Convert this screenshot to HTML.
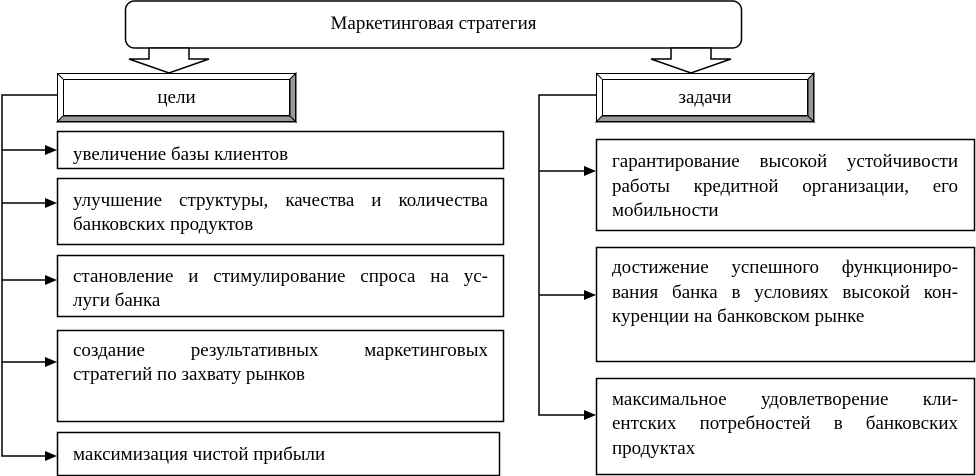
<!DOCTYPE html>
<html><head><meta charset="utf-8"><style>
body{margin:0;width:976px;height:476px;background:#fff;position:relative;overflow:hidden;font-family:"Liberation Serif","Times New Roman","DejaVu Serif",serif;color:#000}
svg{position:absolute;left:0;top:0}
.l{position:absolute;font-size:19px;line-height:24px;height:24px;white-space:nowrap;font-family:"Liberation Serif","Times New Roman","DejaVu Serif",serif}
.j{text-align:justify;text-align-last:justify;white-space:normal}
.c{text-align:center}
</style></head><body>
<svg width="976" height="476" viewBox="0 0 976 476">
<g fill="none" stroke="#000" stroke-width="1.5">
<rect x="125.5" y="1" width="616" height="47" rx="9" fill="#fff"/>
<polygon points="149,48 189,48 189,59 209,59 169,73 129,59 149,59" fill="#fff"/>
<polygon points="671,48 711,48 711,59 731,59 691,73 651,59 671,59" fill="#fff"/>
</g>
<g stroke="#000" stroke-width="1">
<polygon points="290,79 296,73 296,122 290,116" fill="#999"/>
<polygon points="63,116 290,116 296,122 57,122" fill="#999"/>
<rect x="57.5" y="73.5" width="238" height="48" fill="none"/>
<rect x="63.5" y="79.5" width="226" height="36" fill="#fff"/>
<line x1="57" y1="73" x2="63" y2="79"/>
<polygon points="808,79 814,73 814,122 808,116" fill="#999"/>
<polygon points="602,116 808,116 814,122 596,122" fill="#999"/>
<rect x="596.5" y="73.5" width="217" height="48" fill="none"/>
<rect x="602.5" y="79.5" width="205" height="36" fill="#fff"/>
<line x1="596" y1="73" x2="602" y2="79"/>
</g>
<g fill="none" stroke="#000" stroke-width="1.5">
<rect x="57.5" y="131.5" width="446" height="37"/>
<rect x="57.5" y="178.5" width="446" height="66"/>
<rect x="57.5" y="255.5" width="446" height="61"/>
<rect x="57.5" y="330.5" width="446" height="91"/>
<rect x="57.5" y="432.5" width="442" height="43"/>
<rect x="596.5" y="139.5" width="378" height="91"/>
<rect x="596.5" y="247.5" width="378" height="114"/>
<rect x="596.5" y="378.5" width="378" height="96"/>
<polyline points="57,95 2,95 2,456 45,456"/>
<line x1="2" y1="150" x2="45" y2="150"/><line x1="2" y1="203" x2="45" y2="203"/>
<line x1="2" y1="280" x2="45" y2="280"/><line x1="2" y1="362" x2="45" y2="362"/>
<polyline points="596,95 539,95 539,415 584,415"/>
<line x1="539" y1="171" x2="584" y2="171"/><line x1="539" y1="295" x2="584" y2="295"/>
</g>
<g fill="#000">
<polygon points="57,150 45,145 45,155"/><polygon points="57,203 45,198 45,208"/>
<polygon points="57,280 45,275 45,285"/><polygon points="57,362 45,357 45,367"/>
<polygon points="57,456 45,451 45,461"/>
<polygon points="596,171 584,166 584,176"/><polygon points="596,295 584,290 584,300"/>
<polygon points="596,415 584,410 584,420"/>
</g>
</svg>
<div class="l c" style="left:125px;width:617px;top:12px">Маркетинговая стратегия</div>
<div class="l c" style="left:63px;width:227px;top:86px">цели</div>
<div class="l c" style="left:602px;width:206px;top:86px">задачи</div>

<div class="l" style="left:73px;top:143px">увеличение базы клиентов</div>
<div class="l j" style="left:73px;width:415px;top:189px">улучшение структуры, качества и количества</div>
<div class="l" style="left:73px;top:213px">банковских продуктов</div>
<div class="l j" style="left:73px;width:415px;top:265px">становление и стимулирование спроса на ус-</div>
<div class="l" style="left:73px;top:289px">луги банка</div>
<div class="l j" style="left:73px;width:415px;top:339px">создание результативных маркетинговых</div>
<div class="l" style="left:73px;top:363px">стратегий по захвату рынков</div>
<div class="l" style="left:73px;top:443px">максимизация чистой прибыли</div>

<div class="l j" style="left:612px;width:346px;top:150px">гарантирование высокой устойчивости</div>
<div class="l j" style="left:612px;width:346px;top:175px">работы кредитной организации, его</div>
<div class="l" style="left:612px;top:199px">мобильности</div>
<div class="l j" style="left:612px;width:346px;top:256px">достижение успешного функциониро-</div>
<div class="l j" style="left:612px;width:346px;top:281px">вания банка в условиях высокой кон-</div>
<div class="l" style="left:612px;top:305px">куренции на банковском рынке</div>
<div class="l j" style="left:612px;width:346px;top:388px">максимальное удовлетворение кли-</div>
<div class="l j" style="left:612px;width:346px;top:412px">ентских потребностей в банковских</div>
<div class="l" style="left:612px;top:437px">продуктах</div>
</body></html>
